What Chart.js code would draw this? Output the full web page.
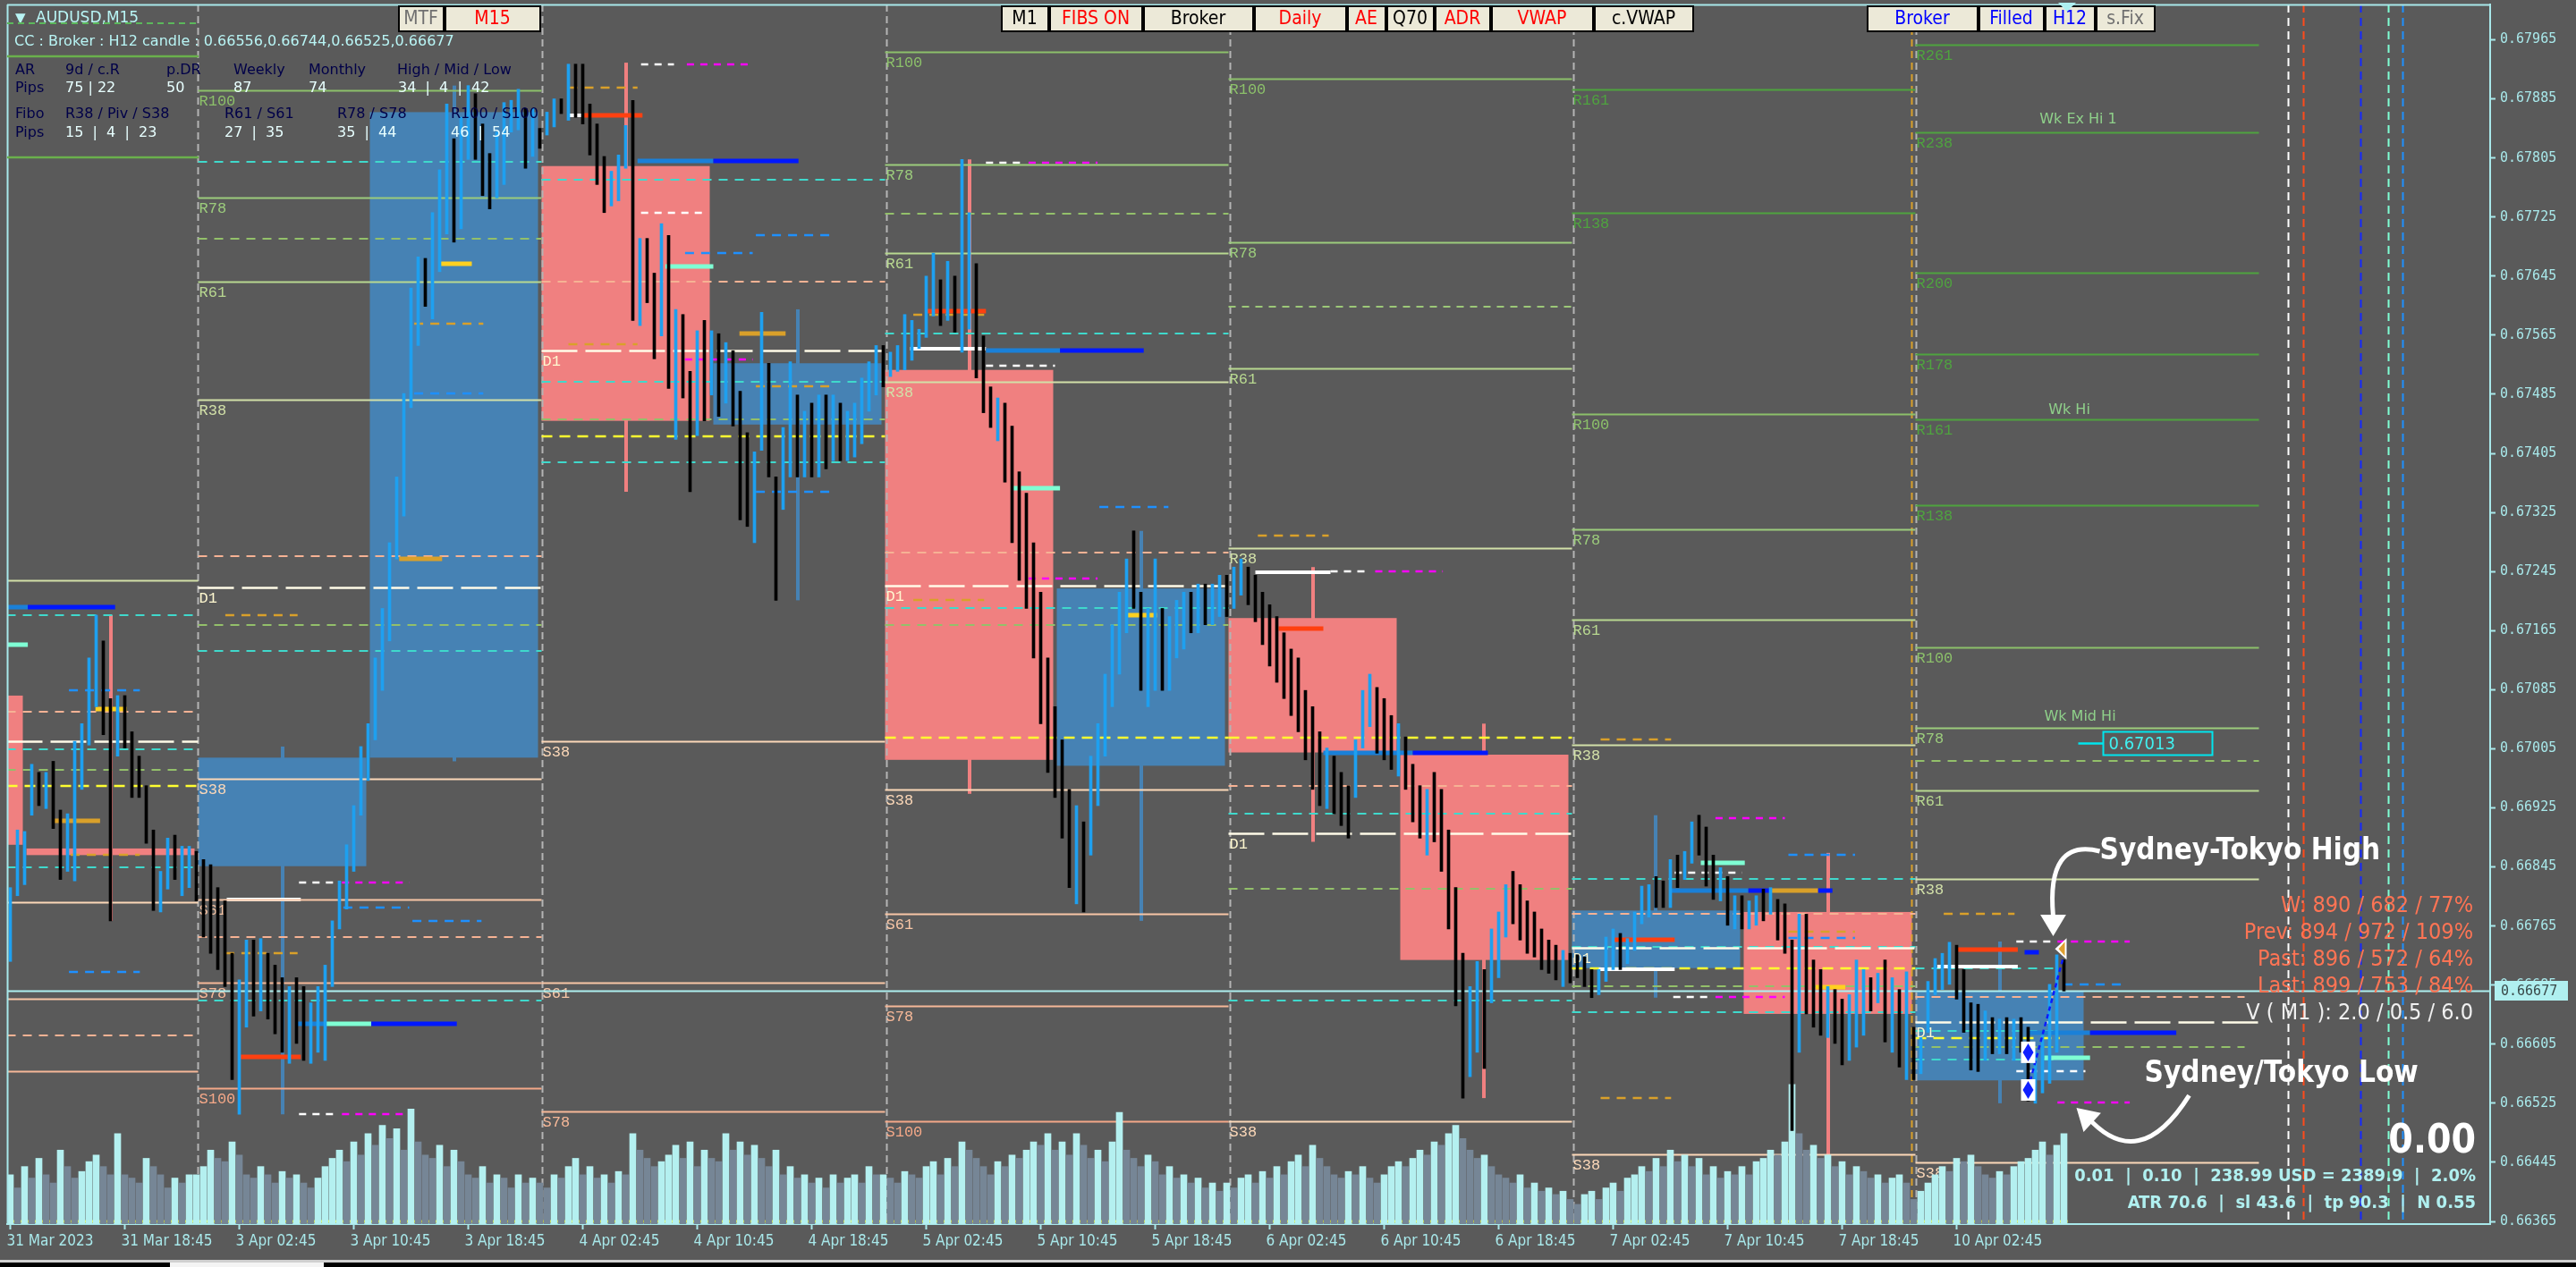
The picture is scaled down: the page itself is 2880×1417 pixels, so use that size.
<!DOCTYPE html>
<html>
<head>
<meta charset="utf-8">
<title>AUDUSD,M15</title>
<script src="https://cdn.jsdelivr.net/npm/chart.js@4.4.0/dist/chart.umd.min.js"></script>
<style>
  html, body { margin: 0; padding: 0; background: #5a5a5a; overflow: hidden; }
  canvas { display: block; }
</style>
</head>
<body>
<canvas id="chart" width="2880" height="1417"></canvas>
<script>
'use strict';

// time axis: bar index of each M15 candle counted from 31 Mar 10:45
var timeTicks = [0, 32, 64, 96, 128, 160, 192, 224, 256, 288, 320, 352, 384, 416, 448, 480, 512, 544];
var timeLabels = ['31 Mar 2023', '31 Mar 18:45', '3 Apr 02:45', '3 Apr 10:45', '3 Apr 18:45', '4 Apr 02:45',
  '4 Apr 10:45', '4 Apr 18:45', '5 Apr 02:45', '5 Apr 10:45', '5 Apr 18:45', '6 Apr 02:45', '6 Apr 10:45',
  '6 Apr 18:45', '7 Apr 02:45', '7 Apr 10:45', '7 Apr 18:45', '10 Apr 02:45'];
var priceTicks = [0.66365, 0.66445, 0.66525, 0.66605, 0.66685, 0.66765, 0.66845, 0.66925, 0.67005, 0.67085,
  0.67165, 0.67245, 0.67325, 0.67405, 0.67485, 0.67565, 0.67645, 0.67725, 0.67805, 0.67885, 0.67965];

// price bars, one every 2 M15 slots, first one at index -2
var firstBar = -2;
var barStep = 2;
var hi = [
  0.66828,0.66817,0.66895,0.66893,0.66984,0.66973,0.66973,0.66988,0.66922,0.66917,0.67015,0.67039,
  0.67128,0.67186,0.67151,0.67073,0.67077,0.67077,0.67028,0.66995,0.66955,0.66895,0.66839,0.66884,
  0.66888,0.66873,0.66873,0.66866,0.66855,0.66848,0.66817,0.66799,0.66728,0.66692,0.66746,0.66746,
  0.66748,0.66728,0.66712,0.66695,0.66683,0.66695,0.66683,0.66661,0.66683,0.66712,0.66772,0.66826,
  0.66875,0.66928,0.67008,0.67039,0.67128,0.67195,0.67284,0.67373,0.67486,0.67629,0.67671,0.67669,
  0.67731,0.67789,0.67878,0.67831,0.67860,0.67903,0.67892,0.67851,0.67811,0.67840,0.67880,0.67883,
  0.67898,0.67872,0.67872,0.67845,0.67867,0.67885,0.67885,0.67932,0.67932,0.67932,0.67878,0.67851,
  0.67807,0.67787,0.67809,0.67849,0.67883,0.67696,0.67696,0.67649,0.67716,0.67700,0.67600,0.67593,
  0.67516,0.67571,0.67585,0.67571,0.67567,0.67555,0.67544,0.67489,0.67433,0.67407,0.67596,0.67527,
  0.67373,0.67440,0.67529,0.67484,0.67462,0.67473,0.67484,0.67484,0.67484,0.67473,0.67462,0.67473,
  0.67507,0.67529,0.67551,0.67551,0.67542,0.67551,0.67593,0.67585,0.67573,0.67645,0.67676,0.67640,
  0.67665,0.67645,0.67803,0.67731,0.67662,0.67564,0.67495,0.67480,0.67473,0.67442,0.67380,0.67351,
  0.67284,0.67217,0.67128,0.67062,0.67017,0.66950,0.66928,0.66906,0.66995,0.67039,0.67106,0.67173,
  0.67217,0.67262,0.67300,0.67217,0.67195,0.67262,0.67195,0.67184,0.67206,0.67217,0.67217,0.67228,
  0.67228,0.67228,0.67240,0.67240,0.67251,0.67262,0.67251,0.67240,0.67217,0.67200,0.67184,0.67162,
  0.67140,0.67128,0.67084,0.67062,0.67028,0.67006,0.66995,0.66973,0.66955,0.67017,0.67084,0.67106,
  0.67088,0.67073,0.67050,0.67039,0.67021,0.66984,0.66955,0.66950,0.66973,0.66950,0.66895,0.66817,
  0.66728,0.66683,0.66717,0.66706,0.66761,0.66784,0.66821,0.66839,0.66821,0.66799,0.66784,0.66761,
  0.66746,0.66739,0.66732,0.66728,0.66726,0.66723,0.66706,0.66706,0.66750,0.66761,0.66755,0.66748,
  0.66784,0.66819,0.66821,0.66832,0.66826,0.66855,0.66861,0.66866,0.66906,0.66915,0.66899,0.66861,
  0.66844,0.66832,0.66806,0.66806,0.66799,0.66806,0.66815,0.66817,0.66801,0.66795,0.66746,0.66781,
  0.66781,0.66719,0.66706,0.66683,0.66679,0.66666,0.66672,0.66719,0.66706,0.66695,0.66701,0.66719,
  0.66695,0.66679,0.66703,0.66628,0.66614,0.66690,0.66721,0.66728,0.66743,0.66739,0.66706,0.66661,
  0.66659,0.66650,0.66641,0.66639,0.66641,0.66639,0.66641,0.66628,0.66594,0.66617,0.66686,0.66726,
  0.66719];
var lo = [
  0.66706,0.66717,0.66806,0.66821,0.66915,0.66928,0.66924,0.66897,0.66828,0.66839,0.66826,0.66950,
  0.67010,0.67062,0.67024,0.66772,0.66995,0.67006,0.66939,0.66939,0.66877,0.66786,0.66784,0.66815,
  0.66828,0.66806,0.66817,0.66799,0.66750,0.66728,0.66706,0.66683,0.66557,0.66510,0.66628,0.66643,
  0.66650,0.66639,0.66619,0.66594,0.66579,0.66606,0.66583,0.66579,0.66594,0.66583,0.66683,0.66761,
  0.66788,0.66839,0.66915,0.66962,0.67017,0.67084,0.67151,0.67262,0.67320,0.67467,0.67551,0.67604,
  0.67587,0.67651,0.67702,0.67691,0.67709,0.67803,0.67803,0.67754,0.67736,0.67751,0.67769,0.67840,
  0.67843,0.67791,0.67807,0.67818,0.67836,0.67847,0.67865,0.67856,0.67860,0.67851,0.67809,0.67769,
  0.67731,0.67740,0.67747,0.67791,0.67585,0.67578,0.67609,0.67533,0.67564,0.67493,0.67424,0.67480,
  0.67353,0.67429,0.67449,0.67484,0.67455,0.67473,0.67442,0.67315,0.67306,0.67284,0.67409,0.67373,
  0.67206,0.67329,0.67373,0.67373,0.67373,0.67373,0.67373,0.67384,0.67395,0.67395,0.67395,0.67400,
  0.67418,0.67462,0.67484,0.67495,0.67509,0.67516,0.67518,0.67531,0.67547,0.67562,0.67591,0.67578,
  0.67585,0.67569,0.67542,0.67573,0.67507,0.67460,0.67440,0.67422,0.67366,0.67284,0.67233,0.67195,
  0.67128,0.67039,0.66973,0.66939,0.66884,0.66817,0.66795,0.66784,0.66861,0.66928,0.66995,0.67062,
  0.67106,0.67162,0.67195,0.67084,0.67062,0.67084,0.67084,0.67084,0.67128,0.67140,0.67162,0.67162,
  0.67173,0.67173,0.67184,0.67184,0.67195,0.67213,0.67200,0.67177,0.67146,0.67117,0.67095,0.67073,
  0.67050,0.67028,0.66990,0.66950,0.66928,0.66924,0.66917,0.66901,0.66884,0.66939,0.67006,0.67035,
  0.66999,0.66990,0.66977,0.66968,0.66950,0.66906,0.66884,0.66861,0.66879,0.66839,0.66761,0.66657,
  0.66532,0.66561,0.66594,0.66572,0.66661,0.66695,0.66750,0.66768,0.66746,0.66728,0.66723,0.66706,
  0.66701,0.66692,0.66683,0.66688,0.66695,0.66683,0.66668,0.66672,0.66690,0.66706,0.66706,0.66714,
  0.66732,0.66768,0.66777,0.66790,0.66790,0.66790,0.66817,0.66828,0.66850,0.66861,0.66819,0.66801,
  0.66799,0.66766,0.66761,0.66761,0.66761,0.66766,0.66772,0.66781,0.66746,0.66728,0.66488,0.66594,
  0.66646,0.66628,0.66617,0.66614,0.66606,0.66577,0.66583,0.66601,0.66617,0.66650,0.66661,0.66608,
  0.66594,0.66574,0.66557,0.66557,0.66565,0.66621,0.66672,0.66679,0.66686,0.66666,0.66621,0.66570,
  0.66568,0.66583,0.66592,0.66592,0.66592,0.66583,0.66594,0.66528,0.66525,0.66539,0.66552,0.66594,
  0.66677];
var cl = [
  0.66750,0.66795,0.66879,0.66884,0.66973,0.66939,0.66955,0.66906,0.66861,0.66906,0.66995,0.67017,
  0.67106,0.67151,0.67039,0.67006,0.67039,0.67017,0.66973,0.66950,0.66884,0.66806,0.66821,0.66861,
  0.66839,0.66850,0.66861,0.66839,0.66772,0.66750,0.66728,0.66695,0.66594,0.66639,0.66706,0.66683,
  0.66706,0.66661,0.66639,0.66617,0.66650,0.66628,0.66594,0.66628,0.66661,0.66695,0.66772,0.66817,
  0.66861,0.66917,0.66993,0.67028,0.67106,0.67173,0.67262,0.67362,0.67473,0.67596,0.67651,0.67640,
  0.67707,0.67774,0.67807,0.67796,0.67840,0.67885,0.67840,0.67796,0.67774,0.67829,0.67863,0.67874,
  0.67889,0.67818,0.67867,0.67829,0.67858,0.67880,0.67874,0.67918,0.67907,0.67863,0.67818,0.67778,
  0.67763,0.67769,0.67796,0.67840,0.67607,0.67685,0.67662,0.67573,0.67685,0.67518,0.67573,0.67495,
  0.67440,0.67551,0.67462,0.67540,0.67484,0.67540,0.67462,0.67351,0.67329,0.67373,0.67429,0.67395,
  0.67351,0.67418,0.67462,0.67418,0.67440,0.67418,0.67451,0.67440,0.67462,0.67429,0.67451,0.67451,
  0.67484,0.67511,0.67527,0.67518,0.67529,0.67540,0.67551,0.67562,0.67562,0.67629,0.67640,0.67607,
  0.67629,0.67596,0.67640,0.67662,0.67529,0.67484,0.67451,0.67451,0.67384,0.67306,0.67284,0.67217,
  0.67151,0.67062,0.66990,0.66962,0.66906,0.66839,0.66884,0.66861,0.66973,0.67017,0.67084,0.67151,
  0.67195,0.67240,0.67217,0.67128,0.67151,0.67184,0.67128,0.67162,0.67173,0.67195,0.67184,0.67206,
  0.67195,0.67217,0.67222,0.67217,0.67240,0.67240,0.67217,0.67195,0.67162,0.67128,0.67117,0.67095,
  0.67073,0.67039,0.67017,0.66973,0.66950,0.66962,0.66928,0.66917,0.66906,0.67006,0.67062,0.67084,
  0.67028,0.67017,0.66999,0.67006,0.66973,0.66928,0.66906,0.66917,0.66895,0.66861,0.66784,0.66683,
  0.66572,0.66639,0.66683,0.66661,0.66739,0.66772,0.66806,0.66795,0.66772,0.66750,0.66739,0.66728,
  0.66717,0.66710,0.66719,0.66717,0.66710,0.66701,0.66683,0.66695,0.66739,0.66750,0.66728,0.66739,
  0.66772,0.66806,0.66817,0.66806,0.66799,0.66844,0.66839,0.66857,0.66895,0.66884,0.66839,0.66817,
  0.66828,0.66781,0.66786,0.66772,0.66784,0.66799,0.66790,0.66806,0.66761,0.66739,0.66683,0.66728,
  0.66683,0.66672,0.66639,0.66661,0.66628,0.66617,0.66650,0.66683,0.66683,0.66672,0.66683,0.66628,
  0.66661,0.66594,0.66646,0.66594,0.66606,0.66672,0.66706,0.66717,0.66728,0.66683,0.66639,0.66617,
  0.66594,0.66628,0.66617,0.66628,0.66617,0.66621,0.66606,0.66550,0.66572,0.66594,0.66672,0.66706,
  0.66677];
// tick volume of the same bars
var vol = [
  500,600,440,700,560,800,600,500,900,700,560,640,760,
  840,700,600,1100,600,560,500,800,700,600,440,560,500,600,
  600,700,900,800,760,1000,840,600,560,700,600,500,640,560,600,500,440,560,700,800,900,760,1000,840,
  1100,960,1200,1040,1160,900,1400,1000,840,800,960,700,900,760,600,560,700,500,600,560,440,600,500,560,
  500,440,600,560,700,800,600,700,560,600,500,640,600,1100,900,800,700,760,840,960,800,1000,700,900,
  800,760,1100,900,1000,840,960,800,700,900,600,700,560,600,500,560,440,600,500,560,600,500,700,600,
  600,560,500,640,600,560,700,760,600,800,700,1000,900,800,700,600,760,700,840,800,900,1000,960,1100,
  900,1000,840,1100,960,800,900,760,1000,1360,900,800,700,840,760,600,700,560,600,500,560,440,500,400,
  500,440,560,600,500,640,560,700,600,760,840,700,960,800,700,600,560,640,600,700,560,500,600,700,
  760,700,800,900,840,1000,960,1100,1200,1040,900,800,840,700,600,560,500,600,440,500,400,440,360,400,
  300,240,360,400,300,440,500,400,560,600,700,640,800,700,900,760,840,700,800,600,700,560,640,600,
  700,600,760,800,900,840,1000,1700,1100,900,960,800,840,700,760,600,700,640,560,600,500,560,600,500,
  300,400,500,600,700,640,800,760,840,700,600,560,640,600,700,760,800,900,1000,840,960,1100];

// broker H12 candles
var h12Bars = 48;
var h12Start = [-43.5, 4.5, 52.5, 100.5, 148.5, 196.5, 244.5, 292.5, 340.5, 388.5, 436.5, 484.5, 532.5];
var h12Open  = [0.67077, 0.66870, 0.66846, 0.66993, 0.67794, 0.67444, 0.67518, 0.66982, 0.67182, 0.66997, 0.66708, 0.66784, 0.66556];
var h12High  = [0.67120, 0.67186, 0.67008, 0.67903, 0.67934, 0.67600, 0.67803, 0.67300, 0.67251, 0.67039, 0.66915, 0.66864, 0.66744];
var h12Low   = [0.66860, 0.66772, 0.66510, 0.66988, 0.67353, 0.67206, 0.66944, 0.66772, 0.66879, 0.66532, 0.66668, 0.66412, 0.66525];
var h12Close = [0.66875, 0.66861, 0.66993, 0.67867, 0.67449, 0.67527, 0.66990, 0.67222, 0.67000, 0.66719, 0.66786, 0.66646, 0.66677];

// daily fibo pivots
var dayFrom = [-1, 52.5, 148.5, 244.5, 340.5, 436.5, 532.5];
var dayTo = [52.5, 148.5, 244.5, 340.5, 436.5, 532.5, 628.5];
var daySep = [52.3, 148.6, 244.9, 340.8, 436.9, 532.6];
var fibName = [
  ['R38', 'D1', 'S38', 'S61', 'S78'],
  ['R100', 'R78', 'R61', 'R38', 'D1', 'S38', 'S61', 'S78', 'S100'],
  ['D1', 'S38', 'S61', 'S78'],
  ['R100', 'R78', 'R61', 'R38', 'D1', 'S38', 'S61', 'S78', 'S100'],
  ['R100', 'R78', 'R61', 'R38', 'D1', 'S38'],
  ['R161', 'R138', 'R100', 'R78', 'R61', 'R38', 'D1', 'S38'],
  ['R261', 'R238', 'R200', 'R178', 'R161', 'R138', 'R100', 'R78', 'R61', 'R38', 'D1', 'S38']
];
var fibPrice = [
  [0.67233, 0.67015, 0.66797, 0.66666, 0.66568],
  [0.67896, 0.67751, 0.67638, 0.67478, 0.67224, 0.66964, 0.66801, 0.66688, 0.66545],
  [0.67544, 0.67015, 0.66688, 0.66514],
  [0.67949, 0.67796, 0.67676, 0.67502, 0.67226, 0.66950, 0.66781, 0.66657, 0.66501],
  [0.67912, 0.67691, 0.67520, 0.67277, 0.66890, 0.66501],
  [0.67898, 0.67731, 0.67458, 0.67302, 0.67180, 0.67010, 0.66735, 0.66456],
  [0.67958, 0.67840, 0.67649, 0.67540, 0.67451, 0.67335, 0.67142, 0.67033, 0.66948, 0.66829, 0.66635, 0.66445]
];

// other indicator levels: [from, to, price, kind]
var lvDay0 = [
  [-1, 52.5, 0.67186, 'cyan'], [-1, 52.5, 0.67055, 'peach'], [-1, 52.5, 0.67004, 'cyan'],
  [-1, 52.5, 0.66977, 'olive'], [-1, 52.5, 0.66955, 'yellow'], [-1, 52.5, 0.66844, 'cyan'],
  [-1, 52.5, 0.66617, 'peach'], [16.4, 36.2, 0.67084, 'dodger'], [16.4, 36.2, 0.66703, 'dodger'],
  [11.8, 25.1, 0.66908, 'goldbar'], [16.9, 36.2, 0.66861, 'gold'], [-1, 4.9, 0.67197, 'steel'],
  [4.9, 29.3, 0.67197, 'blue'], [-1, 4.9, 0.67146, 'aqua'], [23.8, 32.5, 0.67059, 'ybar']
];
var lvDay1 = [
  [52.5, 148.5, 0.67800, 'cyan'], [52.5, 148.5, 0.67696, 'olive'], [52.5, 148.5, 0.67266, 'peach'],
  [52.5, 148.5, 0.67173, 'olive'], [52.5, 148.5, 0.67137, 'cyan'], [52.5, 148.5, 0.66750, 'peach'],
  [52.5, 148.5, 0.66664, 'cyan'], [60.1, 80.3, 0.67186, 'gold'], [108.7, 120.7, 0.67262, 'goldbar'],
  [80.7, 91, 0.66824, 'wdash'], [92.7, 111.5, 0.66824, 'magenta'], [60.5, 81.2, 0.66801, 'wbar'],
  [93.1, 111.5, 0.66790, 'dodger'], [112.4, 131.7, 0.66772, 'dodger'], [60.1, 80.3, 0.66728, 'gold'],
  [64.2, 81.2, 0.66588, 'red'], [79.8, 88.1, 0.66632, 'steel'], [88.1, 100.9, 0.66632, 'aqua'],
  [100.9, 124.8, 0.66632, 'blue'], [80.7, 91, 0.66510, 'wdash'], [92.7, 111.5, 0.66510, 'magenta'],
  [112.9, 132.2, 0.67580, 'gold'], [112.9, 132.2, 0.67486, 'dodger'], [120.2, 129, 0.67662, 'ybar']
];
var lvDay2 = [
  [148.5, 244.5, 0.67776, 'cyan'], [148.5, 244.5, 0.67638, 'peach'], [148.5, 244.5, 0.67502, 'cyan'],
  [148.5, 244.5, 0.67451, 'olive'], [148.5, 244.5, 0.67428, 'yellow'], [148.5, 244.5, 0.67393, 'cyan'],
  [176.3, 185.5, 0.67932, 'wdash'], [189.1, 207.5, 0.67932, 'magenta'], [156, 175.3, 0.67900, 'gold'],
  [156, 159.7, 0.67863, 'wbar'], [159.7, 176.7, 0.67863, 'red'], [175.3, 196.5, 0.67801, 'steel'],
  [196.5, 220.3, 0.67801, 'blue'], [176.3, 195, 0.67731, 'wdash'], [183.1, 196.5, 0.67658, 'aqua'],
  [188.6, 207.5, 0.67676, 'dodger'], [208.4, 230, 0.67700, 'dodger'], [156, 175.3, 0.67553, 'gold'],
  [188.6, 207.5, 0.67532, 'magenta'], [203.8, 216.7, 0.67567, 'goldbar'], [208.4, 230, 0.67496, 'gold'],
  [208.4, 230, 0.67353, 'dodger']
];
var lvDay3 = [
  [244.5, 340.5, 0.67729, 'olive'], [244.5, 340.5, 0.67567, 'cyan'], [244.5, 340.5, 0.67271, 'peach'],
  [244.5, 340.5, 0.67195, 'cyan'], [244.5, 340.5, 0.67173, 'olive'], [244.5, 340.5, 0.67020, 'yellow'],
  [272.7, 283.3, 0.67798, 'wdash'], [284.6, 303.9, 0.67798, 'magenta'], [252.4, 272.2, 0.67593, 'gold'],
  [256.2, 272.7, 0.67598, 'red'], [251.5, 272.7, 0.67547, 'wbar'], [272.7, 293.4, 0.67544, 'steel'],
  [293.4, 316.8, 0.67544, 'blue'], [272.7, 292, 0.67524, 'wdash'], [279.6, 293.4, 0.67358, 'aqua'],
  [304.4, 323.7, 0.67332, 'dodger'], [284.6, 303.9, 0.67235, 'magenta'], [252.4, 272.2, 0.67206, 'gold'],
  [312.2, 320.5, 0.67186, 'ybar']
];
var lvDay4 = [
  [340.5, 436.5, 0.67604, 'green'], [340.5, 436.5, 0.67020, 'yellow'], [340.5, 436.5, 0.66955, 'peach'],
  [340.5, 436.5, 0.66917, 'cyan'], [340.5, 436.5, 0.66815, 'olive'], [340.5, 436.5, 0.66664, 'cyan'],
  [348.7, 368.5, 0.67294, 'gold'], [348, 369, 0.67244, 'wbar'], [369, 379.3, 0.67245, 'wdash'],
  [381.5, 400.4, 0.67245, 'magenta'], [354.5, 367, 0.67168, 'red'], [367, 392, 0.67000, 'steel'],
  [392, 413, 0.67000, 'blue']
];
var lvDay5 = [
  [436.5, 532.5, 0.66829, 'cyan'], [436.5, 532.5, 0.66781, 'peach'], [436.5, 532.5, 0.66737, 'cyan'],
  [436.5, 532.5, 0.66708, 'yellow'], [436.5, 532.5, 0.66683, 'olive'], [436.5, 532.5, 0.66648, 'cyan'],
  [444.5, 464.2, 0.67017, 'gold'], [476.6, 496, 0.66911, 'magenta'], [465.2, 484, 0.66837, 'wdash'],
  [472.5, 484.8, 0.66850, 'aqua'], [463.8, 485.8, 0.66813, 'steel'], [485.8, 491.8, 0.66813, 'blue'],
  [491.8, 505.3, 0.66813, 'goldbar'], [505.3, 509.3, 0.66813, 'blue'], [448.2, 465.2, 0.66746, 'red'],
  [497, 515.6, 0.66757, 'gold'], [497, 515.6, 0.66749, 'dodger'], [497, 515.6, 0.66861, 'dodger'],
  [444, 465.2, 0.66706, 'wbar'], [504.6, 512.9, 0.66682, 'ybar'], [464.8, 475.3, 0.66669, 'wdash'],
  [476.6, 496, 0.66669, 'magenta'], [444.5, 464.2, 0.66532, 'gold']
];
var lvDay6 = [
  [532.5, 628.5, 0.66989, 'olive'], [532.5, 624.5, 0.66669, 'peach'], [532.5, 624.5, 0.66601, 'olive'],
  [532.5, 572.8, 0.66708, 'cyan'], [532.5, 572.8, 0.66623, 'cyan'], [532.5, 572.8, 0.66613, 'yellow'],
  [532.5, 572.8, 0.66584, 'cyan'], [540.4, 560.2, 0.66781, 'gold'], [560.7, 571.3, 0.66744, 'wdash'],
  [572.2, 592.4, 0.66744, 'magenta'], [544.1, 561.1, 0.66733, 'red'], [563, 567, 0.66730, 'blue'],
  [538.6, 561.1, 0.66710, 'wbar'], [573.9, 591.9, 0.66686, 'dodger'], [564, 581.3, 0.66620, 'steel'],
  [581.3, 605.4, 0.66620, 'blue'], [568.5, 581.3, 0.66586, 'aqua'], [560.7, 580, 0.66568, 'wdash'],
  [572.2, 592.4, 0.66526, 'magenta']
];
var levelSets = [lvDay0, lvDay1, lvDay2, lvDay3, lvDay4, lvDay5, lvDay6];

// session projection on the last H12 candle
var projFrom = [564, 0.66545];
var projTo = [574.5, 0.66735];
var lastPrice = 0.66677;
var wkTarget = 0.67013;
var futureMarks = [636.6, 640.9, 656.9, 664.6, 668.6];
var futureColors = ['#ffffff', '#ff4a1a', '#1428ff', '#7fffd4', '#1e90ff'];

var bgColor = '#5a5a5a';
var axisColor = '#a8e8ea';
var upColor = '#1ea0f0';
var downColor = '#000000';

var levelStyle = {
  cyan: ['#3fd9cc', 2, [10, 8]],
  olive: ['#93c06a', 2, [10, 8]],
  green: ['#9cc878', 2, [8, 7]],
  yellow: ['#ffff30', 2.5, [12, 8]],
  peach: ['#f6b294', 2, [10, 8]],
  gold: ['#d9a02a', 2.5, [10, 8]],
  dodger: ['#1e90ff', 2.5, [10, 8]],
  magenta: ['#ff00ff', 2.5, [8, 7]],
  wdash: ['#ffffff', 2.5, [8, 7]],
  red: ['#ff4010', 5, []],
  blue: ['#0018ff', 5, []],
  steel: ['#1a80d8', 5, []],
  aqua: ['#7fffd4', 5, []],
  goldbar: ['#d9a02a', 5, []],
  ybar: ['#ffd020', 5, []],
  wbar: ['#ffffff', 4, []]
};
var fibColor = {
  R261: '#4fa33f', R238: '#4fa33f', R200: '#4fa33f', R178: '#4fa33f', R161: '#4fa33f', R138: '#4fa33f',
  R100: '#8cc06a', R78: '#9ccc7c', R61: '#b8d890', R38: '#d2e0a8', D1: '#fff8d0',
  S38: '#fcd8b8', S61: '#f8c6a6', S78: '#f6b898', S100: '#f4a888'
};

function hline(c, x1, x2, y, color, width, dash) {
  c.save();
  c.strokeStyle = color;
  c.lineWidth = width;
  c.setLineDash(dash || []);
  c.beginPath();
  c.moveTo(x1, y);
  c.lineTo(x2, y);
  c.stroke();
  c.restore();
}

function vline(c, x, y1, y2, color, width, dash) {
  c.save();
  c.strokeStyle = color;
  c.lineWidth = width;
  c.setLineDash(dash || []);
  c.beginPath();
  c.moveTo(x, y1);
  c.lineTo(x, y2);
  c.stroke();
  c.restore();
}

function arrowHead(c, x, y, ang, size) {
  c.save();
  c.translate(x, y);
  c.rotate(ang);
  c.beginPath();
  c.moveTo(0, 0);
  c.lineTo(-size, -size * 0.6);
  c.lineTo(-size, size * 0.6);
  c.closePath();
  c.fill();
  c.restore();
}

var mtPlugin = {
  id: 'mt4',
  beforeDraw: function (chart) {
    var c = chart.ctx;
    c.save();
    c.fillStyle = bgColor;
    c.fillRect(0, 0, chart.width, chart.height);
    c.restore();
  },
  beforeDatasetsDraw: function (chart) {
    var c = chart.ctx, xs = chart.scales.x, ys = chart.scales.y, a = chart.chartArea;
    c.save();
    c.beginPath();
    c.rect(a.left, a.top, a.right - a.left, a.bottom - a.top);
    c.clip();

    // H12 candles behind everything
    for (var i = 0; i < h12Start.length; i++) {
      var col = h12Close[i] >= h12Open[i] ? '#4682b4' : '#f08080';
      var x1 = xs.getPixelForValue(h12Start[i]);
      var x2 = xs.getPixelForValue(h12Start[i] + h12Bars - 1);
      var xm = xs.getPixelForValue(h12Start[i] + (h12Bars - 1) / 2);
      var yh = ys.getPixelForValue(h12High[i]), yl = ys.getPixelForValue(h12Low[i]);
      var yo = ys.getPixelForValue(h12Open[i]), yc = ys.getPixelForValue(h12Close[i]);
      c.fillStyle = col;
      c.fillRect(Math.round(xm) - 2, yh, 4, yl - yh);
      c.fillRect(x1, Math.min(yo, yc), x2 - x1, Math.max(Math.abs(yo - yc), 3));
    }

    // day separators
    daySep.forEach(function (d) {
      vline(c, Math.round(xs.getPixelForValue(d)) + 0.5, a.top, a.bottom, '#b4b4b4', 2, [8, 5]);
    });
    vline(c, Math.round(xs.getPixelForValue(531.4)) + 0.5, a.top, a.bottom, '#d9a02a', 2, [8, 5]);
    futureMarks.forEach(function (d, i) {
      vline(c, Math.round(xs.getPixelForValue(d)) + 0.5, a.top, a.bottom, futureColors[i], 2, [9, 6]);
    });

    // indicator levels
    levelSets.forEach(function (set) {
      set.forEach(function (lv) {
        var st = levelStyle[lv[3]];
        var y = Math.round(ys.getPixelForValue(lv[2]));
        hline(c, xs.getPixelForValue(lv[0]), xs.getPixelForValue(lv[1]), y, st[0], st[1], st[2]);
      });
    });

    // daily fibo lines with labels
    c.font = '17px "Liberation Mono", "DejaVu Sans Mono", monospace';
    c.textBaseline = 'top';
    c.textAlign = 'left';
    for (var d = 0; d < fibName.length; d++) {
      var fx1 = xs.getPixelForValue(dayFrom[d]), fx2 = xs.getPixelForValue(dayTo[d]);
      for (var j = 0; j < fibName[d].length; j++) {
        var nm = fibName[d][j];
        var fy = Math.round(ys.getPixelForValue(fibPrice[d][j])) + 0.5;
        if (nm === 'D1') {
          hline(c, fx1, fx2, fy, '#fffbe8', 2.5, [40, 9]);
        } else {
          hline(c, fx1, fx2, fy, fibColor[nm], 2, []);
        }
        if (dayFrom[d] > xs.min) {
          c.fillStyle = fibColor[nm];
          c.fillText(nm, fx1 + 1, fy + 3);
        }
      }
    }

    // last price line
    hline(c, a.left, a.right, Math.round(ys.getPixelForValue(lastPrice)) + 0.5, '#aef0f0', 2, []);

    // yellow base under volumes
    hline(c, xs.getPixelForValue(firstBar), xs.getPixelForValue(firstBar + (hi.length - 1) * barStep) + 4,
      a.bottom - 3, '#ffff00', 3, []);
    c.restore();
  },
  afterDatasetsDraw: function (chart) {
    var c = chart.ctx, xs = chart.scales.x, ys = chart.scales.y, a = chart.chartArea;
    c.save();
    c.beginPath();
    c.rect(a.left, a.top, a.right - a.left, a.bottom - a.top);
    c.clip();

    // projection from the session low to the session high
    c.strokeStyle = '#0a1cff';
    c.lineWidth = 2.5;
    c.setLineDash([5, 4]);
    c.beginPath();
    c.moveTo(xs.getPixelForValue(projFrom[0]), ys.getPixelForValue(projFrom[1]));
    c.lineTo(xs.getPixelForValue(projTo[0]), ys.getPixelForValue(projTo[1]));
    c.stroke();
    c.setLineDash([]);
    [0.66594, 0.66543].forEach(function (p) {
      var x = xs.getPixelForValue(564), y = ys.getPixelForValue(p);
      c.fillStyle = '#ffffff';
      c.fillRect(x - 8, y - 12, 16, 24);
      c.fillStyle = '#1020ff';
      c.beginPath();
      c.moveTo(x, y - 10); c.lineTo(x + 6, y); c.lineTo(x, y + 10); c.lineTo(x - 6, y);
      c.closePath(); c.fill();
    });
    var tx = xs.getPixelForValue(574), ty = ys.getPixelForValue(0.66734);
    c.fillStyle = '#ffffff';
    c.beginPath(); c.moveTo(tx - 10, ty); c.lineTo(tx + 3, ty - 12); c.lineTo(tx + 3, ty + 12); c.closePath(); c.fill();
    c.fillStyle = '#e0a030';
    c.beginPath(); c.moveTo(tx - 6, ty); c.lineTo(tx + 1, ty - 8); c.lineTo(tx + 1, ty + 8); c.closePath(); c.fill();

    // weekly labels
    c.font = '16px "DejaVu Sans", sans-serif';
    c.fillStyle = '#8fd08a';
    c.textAlign = 'center';
    c.textBaseline = 'bottom';
    c.fillText('Wk Ex Hi 1', xs.getPixelForValue(578), ys.getPixelForValue(0.67840) - 6);
    c.fillText('Wk Hi', xs.getPixelForValue(575.5), ys.getPixelForValue(0.67451) - 2);
    c.fillText('Wk Mid Hi', xs.getPixelForValue(578.5), ys.getPixelForValue(0.67033) - 4);

    var wy = Math.round(ys.getPixelForValue(wkTarget)) + 0.5;
    var wx = xs.getPixelForValue(585);
    hline(c, xs.getPixelForValue(578), wx, wy, '#00e5ee', 2.5, []);
    c.strokeStyle = '#00e5ee';
    c.lineWidth = 2;
    c.strokeRect(wx, wy - 13, 122, 26);
    c.fillStyle = '#40f0f0';
    c.textAlign = 'left';
    c.textBaseline = 'middle';
    c.font = '20px "DejaVu Sans Condensed", "DejaVu Sans", sans-serif';
    c.fillText('0.67013', wx + 6, wy + 1);
    c.restore();

    // chart frame
    hline(c, a.left, a.right, a.top + 0.5, axisColor, 2, []);
    vline(c, a.left + 0.5, a.top, a.bottom, axisColor, 2, []);
  },
  afterDraw: function (chart) {
    var c = chart.ctx, xs = chart.scales.x, ys = chart.scales.y, a = chart.chartArea;
    c.save();

    // info panel
    var sans = '"DejaVu Sans", sans-serif';
    c.textBaseline = 'middle';
    c.textAlign = 'left';
    c.font = '15px ' + sans;
    c.fillStyle = '#b8f4f4';
    c.fillText('\u25BC', 17, 21);
    c.font = '17px ' + sans;
    c.fillText('AUDUSD,M15', 40, 21);
    hline(c, 8, 220, 26, '#5cb85c', 2, [7, 5]);
    c.font = '16px ' + sans;
    c.fillText('CC : Broker : H12 candle : 0.66556,0.66744,0.66525,0.66677', 16, 47);
    hline(c, 8, 222, 63, '#6ab04c', 2.5, []);
    var navy = '#000048', light = '#e8ffff';
    var rows = [
      [79, navy, [['AR', 17], ['9d / c.R', 73], ['p.DR', 186], ['Weekly', 261], ['Monthly', 345], ['High / Mid / Low', 444]]],
      [99, light, [['75 | 22', 73], ['50', 186], ['87', 261], ['74', 345], ['34  |  4  |  42', 445]]],
      [128, navy, [['Fibo', 17], ['R38 / Piv / S38', 73], ['R61 / S61', 251], ['R78 / S78', 377], ['R100 / S100', 504]]],
      [149, light, [['15  |  4  |  23', 73], ['27  |  35', 251], ['35  |  44', 377], ['46  |  54', 504]]]
    ];
    c.font = '16px ' + sans;
    rows.forEach(function (r) {
      c.fillStyle = r[1];
      r[2].forEach(function (t) { c.fillText(t[0], t[1], r[0]); });
    });
    c.fillStyle = navy;
    c.fillText('Pips', 17, 99);
    c.fillText('Pips', 17, 149);
    hline(c, 8, 222, 176, '#6ab04c', 2.5, []);

    // toolbar buttons
    var cond = '"DejaVu Sans Condensed", "DejaVu Sans", sans-serif';
    var buttons = [
      ['MTF', 445, 51, '#707070'], ['M15', 497, 107, '#ff0000'], ['M1', 1119, 53, '#000000'],
      ['FIBS ON', 1173, 104, '#ff0000'], ['Broker', 1278, 123, '#000000'], ['Daily', 1402, 103, '#ff0000'],
      ['AE', 1506, 43, '#ff0000'], ['Q70', 1550, 53, '#000000'], ['ADR', 1604, 62, '#ff0000'],
      ['VWAP', 1667, 114, '#ff0000'], ['c.VWAP', 1782, 111, '#000000'], ['Broker', 2087, 124, '#0000ff'],
      ['Filled', 2212, 73, '#0000ff'], ['H12', 2286, 56, '#0000ff'], ['s.Fix', 2343, 66, '#707070']
    ];
    c.font = '21px ' + cond;
    c.textAlign = 'center';
    buttons.forEach(function (b) {
      c.fillStyle = '#ece9d8';
      c.fillRect(b[1], 6, b[2], 29);
      c.strokeStyle = '#000000';
      c.lineWidth = 2;
      c.strokeRect(b[1] + 1, 7, b[2] - 1, 28);
      c.fillStyle = b[3];
      c.fillText(b[0], b[1] + b[2] / 2, 22);
    });
    c.fillStyle = '#aef0f0';
    c.beginPath(); c.moveTo(2301, 3); c.lineTo(2321, 3); c.lineTo(2311, 13); c.closePath(); c.fill();

    // session annotations
    var hx = xs.getPixelForValue(571), hy = ys.getPixelForValue(0.66744) - 6;
    c.fillStyle = '#ffffff';
    c.strokeStyle = '#ffffff';
    c.lineWidth = 5;
    c.beginPath();
    c.moveTo(hx + 52, hy - 95);
    c.quadraticCurveTo(hx - 8, hy - 110, hx, hy - 22);
    c.stroke();
    arrowHead(c, hx, hy, Math.PI / 2, 24);
    c.font = 'bold 33px ' + cond;
    c.textAlign = 'left';
    c.fillText('Sydney-Tokyo High', hx + 52, hy - 95);

    var lx = xs.getPixelForValue(577.5), ly = ys.getPixelForValue(0.66526) + 6;
    c.beginPath();
    c.moveTo(lx + 126, ly - 14);
    c.quadraticCurveTo(lx + 70, ly + 75, lx + 12, ly + 10);
    c.stroke();
    arrowHead(c, lx, ly, -2.4, 24);
    c.fillText('Sydney/Tokyo Low', lx + 76, ly - 38);

    // stats block
    c.textAlign = 'right';
    c.font = '25px ' + cond;
    c.fillStyle = '#ff7454';
    c.fillText('W: 890 / 682 / 77%', 2765, 1013);
    c.fillText('Prev: 894 / 972 / 109%', 2765, 1043);
    c.fillText('Past: 896 / 572 / 64%', 2765, 1073);
    c.fillText('Last: 899 / 753 / 84%', 2765, 1103);
    c.fillStyle = '#f0f0f0';
    c.fillText('V ( M1 ): 2.0 / 0.5 / 6.0', 2765, 1133);
    c.font = 'bold 44px ' + cond;
    c.fillStyle = '#ffffff';
    c.fillText('0.00', 2768, 1278);
    c.font = 'bold 20px ' + cond;
    c.fillStyle = '#b0f0f0';
    c.fillText('0.01  |  0.10  |  238.99 USD = 2389.9  |  2.0%', 2768, 1316);
    c.fillText('ATR 70.6  |  sl 43.6  |  tp 90.3  |  N 0.55', 2768, 1346);

    // last price tag on the axis
    var py = Math.round(ys.getPixelForValue(lastPrice));
    c.fillStyle = '#b0f0f0';
    c.fillRect(a.right + 5, py - 11, 82, 22);
    c.fillStyle = '#3a4a4a';
    c.textAlign = 'left';
    c.font = '15px "DejaVu Sans Mono", monospace';
    c.fillText(lastPrice.toFixed(5), a.right + 12, py + 1);

    // window bottom strip
    c.fillStyle = '#d0d0d0';
    c.fillRect(0, 1409, chart.width, 3);
    c.fillStyle = '#000000';
    c.fillRect(0, 1412, chart.width, 5);
    c.fillStyle = '#f4f4f4';
    c.fillRect(190, 1412, 172, 5);
    c.restore();
  }
};

var barData = hi.map(function (h, i) { return { x: firstBar + i * barStep, y: [lo[i], h] }; });
var barColors = cl.map(function (v, i) { return v >= (i > 0 ? cl[i - 1] : v) ? upColor : downColor; });
var volData = vol.map(function (v, i) { return { x: firstBar + i * barStep, y: v }; });
var volColors = vol.map(function (v, i) { return i > 0 && v < vol[i - 1] ? '#768696' : '#b4f0f0'; });

var chartCtx = document.getElementById('chart').getContext('2d');
var chart = new Chart(chartCtx, {
  type: 'bar',
  data: {
    datasets: [
      { label: 'Volume', data: volData, backgroundColor: volColors, yAxisID: 'yv', barThickness: 7, grouped: false, order: 2 },
      { label: 'AUDUSD,M15', data: barData, backgroundColor: barColors, yAxisID: 'y', barThickness: 3, grouped: false, order: 1 }
    ]
  },
  options: {
    responsive: false,
    animation: false,
    events: [],
    layout: { padding: { left: 8, top: 5, right: 0, bottom: 0 } },
    plugins: { legend: { display: false }, tooltip: { enabled: false }, title: { display: false } },
    scales: {
      x: {
        type: 'linear', min: -0.875, max: 693.125, offset: false,
        grid: { offset: false, drawOnChartArea: false, drawTicks: true, tickLength: 6, tickColor: axisColor, tickWidth: 2 },
        border: { display: true, color: axisColor, width: 2 },
        ticks: {
          color: axisColor, font: { family: '"DejaVu Sans Condensed", "DejaVu Sans", sans-serif', size: 17 },
          align: 'start', labelOffset: -4, padding: 3, maxRotation: 0, autoSkip: false,
          callback: function (v, i) { return timeLabels[i]; }
        },
        afterBuildTicks: function (s) { s.ticks = timeTicks.map(function (v) { return { value: v }; }); },
        afterFit: function (s) { s.height = 48; s.paddingLeft = 0; s.paddingRight = 0; }
      },
      y: {
        type: 'linear', position: 'right', min: 0.663614, max: 0.680128,
        grid: { drawOnChartArea: false, tickLength: 6, tickColor: axisColor, tickWidth: 2 },
        border: { display: true, color: axisColor, width: 2 },
        ticks: {
          color: axisColor, font: { family: '"DejaVu Sans Mono", monospace', size: 15 }, padding: 5,
          callback: function (v) { return v.toFixed(5); }
        },
        afterBuildTicks: function (s) { s.ticks = priceTicks.map(function (v) { return { value: v }; }); },
        afterFit: function (s) { s.width = 96; s.paddingTop = 0; s.paddingBottom = 0; }
      },
      yv: { type: 'linear', display: false, min: 0, max: 14840 }
    }
  },
  plugins: [mtPlugin]
});
</script>
</body>
</html>
